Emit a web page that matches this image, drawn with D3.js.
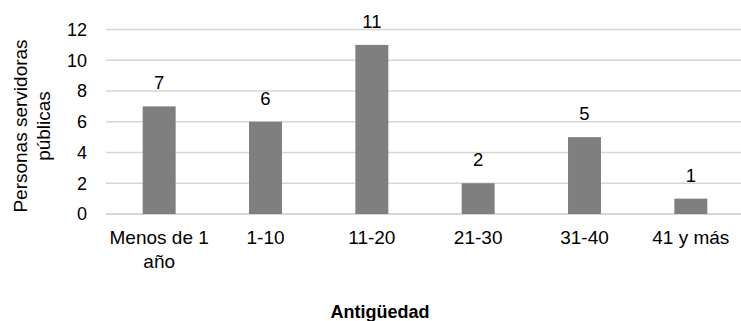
<!DOCTYPE html>
<html>
<head>
<meta charset="utf-8">
<script src="https://cdn.jsdelivr.net/npm/d3@7"></script>
<style>
  html, body { margin: 0; padding: 0; background: #fff; }
  svg { display: block; }
  text { font-family: "Liberation Sans", Arial, sans-serif; fill: #000; }
</style>
</head>
<body>
<svg id="chart" width="741" height="321"></svg>
<script>
// Antigüedad de las personas servidoras públicas
const categories = [["Menos de 1", "año"], ["1-10"], ["11-20"], ["21-30"], ["31-40"], ["41 y más"]];
const values = [7, 6, 11, 2, 5, 1];
const yTicks = [0, 2, 4, 6, 8, 10, 12];
const yTitle = ["Personas servidoras", "públicas"];
const xTitle = "Antigüedad";

const svg = d3.select("#chart");
const plot = { left: 106, right: 744, top: 29.5, bottom: 214 };

const x = d3.scaleBand()
  .domain(categories.map((d, i) => i))
  .range([plot.left, plot.right])
  .paddingInner(0.69)
  .paddingOuter(0.345);

const y = d3.scaleLinear().domain([0, 12]).range([plot.bottom, plot.top]);

// gridlines
svg.append("g")
  .selectAll("line")
  .data(yTicks)
  .join("line")
  .attr("x1", plot.left)
  .attr("x2", 741)
  .attr("y1", d => y(d))
  .attr("y2", d => y(d))
  .attr("stroke", d => d === 0 ? "#c8c8c8" : "#d6d6d6")
  .attr("stroke-width", 1.5);

// y axis labels
const yAxis = svg.append("g")
  .attr("transform", `translate(${plot.left - 19},0)`)
  .call(d3.axisLeft(y).tickValues(yTicks).tickSize(0).tickPadding(0));
yAxis.select(".domain").remove();
yAxis.selectAll("text")
  .attr("font-size", 18)
  .attr("font-family", "Liberation Sans, Arial, sans-serif")
  .attr("fill", "#000");

// bars
svg.append("g")
  .selectAll("rect")
  .data(values)
  .join("rect")
  .attr("x", (d, i) => x(i))
  .attr("width", x.bandwidth())
  .attr("y", d => y(d))
  .attr("height", d => y(0) - y(d))
  .attr("fill", "#7f7f7f");

// value labels
svg.append("g")
  .selectAll("text")
  .data(values)
  .join("text")
  .attr("x", (d, i) => x(i) + x.bandwidth() / 2)
  .attr("y", d => y(d) - 17)
  .attr("text-anchor", "middle")
  .attr("font-size", 18.5)
  .text(d => d);

// category labels
const cat = svg.append("g")
  .selectAll("text")
  .data(categories)
  .join("text")
  .attr("x", (d, i) => x(i) + x.bandwidth() / 2)
  .attr("y", 244)
  .attr("text-anchor", "middle")
  .attr("font-size", 19);
cat.selectAll("tspan")
  .data(d => d)
  .join("tspan")
  .attr("x", function () { return d3.select(this.parentNode).attr("x"); })
  .attr("dy", (d, i) => i === 0 ? 0 : 24)
  .text(d => d);

// y axis title
const yt = svg.append("text")
  .attr("transform", "translate(27,126) rotate(-90)")
  .attr("text-anchor", "middle")
  .attr("font-size", 19);
yt.selectAll("tspan")
  .data(yTitle)
  .join("tspan")
  .attr("x", 0)
  .attr("dy", (d, i) => i === 0 ? 0 : 23)
  .text(d => d);

// x axis title
svg.append("text")
  .attr("x", 380)
  .attr("y", 318)
  .attr("text-anchor", "middle")
  .attr("font-size", 18)
  .attr("font-weight", "bold")
  .text(xTitle);
</script>
</body>
</html>
